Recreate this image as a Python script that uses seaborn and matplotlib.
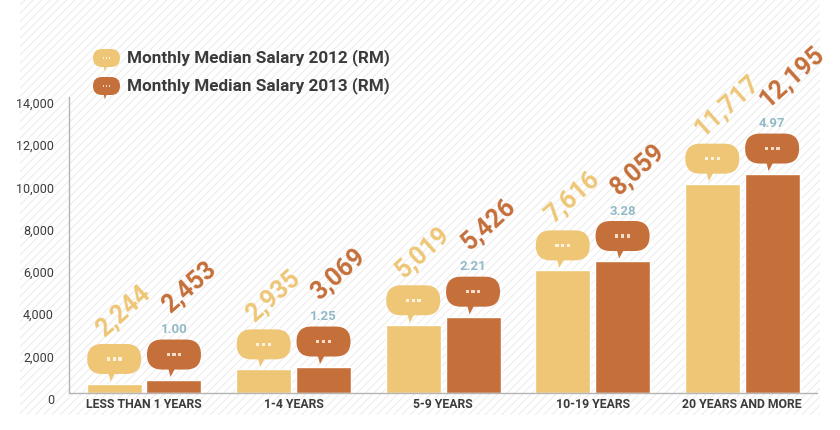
import matplotlib
matplotlib.use('Agg')
import matplotlib.pyplot as plt
import matplotlib.transforms as mtransforms
from matplotlib.patches import FancyBboxPatch, Polygon, Rectangle
import seaborn as sns
import pandas as pd

# data read from the infographic
categories = ['LESS THAN 1 YEARS', '1-4 YEARS', '5-9 YEARS', '10-19 YEARS', '20 YEARS AND MORE']
years = ['Monthly Median Salary 2012 (RM)', 'Monthly Median Salary 2013 (RM)']
salary_2012 = [2244, 2935, 5019, 7616, 11717]
salary_2013 = [2453, 3069, 5426, 8059, 12195]
growth = ['1.00', '1.25', '2.21', '3.28', '4.97']

# the speech bubble sits on top of each bar and makes up the rest of the value
BUBBLE_SHARE = 1830

col_2012 = '#EEC676'
col_2013 = '#C56F3A'
dots_2012 = '#FDF3DE'
dots_2013 = '#F6DCCB'
text_col = '#3b3b3b'
growth_col = '#92BAC6'

sns.set_style('white')
plt.rcParams['font.family'] = ['Roboto', 'DejaVu Sans']
plt.rcParams['hatch.linewidth'] = 0.7

df = pd.DataFrame({
    'category': categories * 2,
    'year': [years[0]] * 5 + [years[1]] * 5,
    'salary': salary_2012 + salary_2013,
})
df['bar'] = df['salary'] - BUBBLE_SHARE

fig = plt.figure(figsize=(8.4, 4.3), dpi=100)
fig.patch.set_facecolor('white')

# faint diagonal stripes behind the chart
bg = Rectangle((20 / 840, 15 / 430), 800 / 840, 415 / 430, transform=fig.transFigure,
               facecolor='white', edgecolor='#ebebeb', hatch='////', linewidth=0, zorder=-10)
fig.patches.append(bg)

ax = fig.add_axes([0.0825, 0.0867, 0.8901, 0.6884])
ax.set_facecolor('none')

sns.barplot(data=df, x='category', y='bar', hue='year', order=categories, hue_order=years,
            palette=[col_2012, col_2013], width=0.8, gap=0.08, saturation=1,
            legend=False, ax=ax, zorder=2)

ax.set_xlim(-0.5, 4.5)
ax.set_ylim(0, 14000)
ax.set_yticks(range(0, 14001, 2000))
ax.set_yticklabels([f'{v:,}' for v in range(0, 14001, 2000)])
ax.set_xlabel('')
ax.set_ylabel('')
ax.tick_params(axis='both', length=0)
ax.tick_params(axis='y', pad=11, labelsize=9, labelcolor=text_col)
ax.tick_params(axis='x', pad=4, labelsize=8.8, labelcolor=text_col)
for lab in ax.get_xticklabels():
    lab.set_fontweight('bold')
shift = mtransforms.ScaledTranslation(0, -0.06, fig.dpi_scale_trans)
for lab in ax.get_yticklabels():
    lab.set_transform(lab.get_transform() + shift)
for side in ['top', 'right']:
    ax.spines[side].set_visible(False)
for side in ['left', 'bottom']:
    ax.spines[side].set_color('#b5b5b5')
    ax.spines[side].set_linewidth(1)


def draw_bubble(target, trans, cx, y0, w, h, color, dot_color):
    # speech bubble in inches, relative to the given transform origin
    body = FancyBboxPatch((cx - w / 2, y0), w, h,
                          boxstyle=f'round,pad=0,rounding_size={h * 0.5}',
                          facecolor=color, edgecolor='none', transform=trans, zorder=3)
    tail = Polygon([(cx - 0.11 * w, y0 + 0.02), (cx + 0.03 * w, y0 + 0.02),
                    (cx - 0.065 * w, y0 - 0.075 * h / 0.30)],
                   closed=True, facecolor=color, edgecolor='none', transform=trans, zorder=3)
    parts = [body, tail]
    s = 0.032 * w / 0.54
    for k in (-1, 0, 1):
        parts.append(Rectangle((cx + k * 0.058 * w / 0.54 - s / 2, y0 + h / 2 - s / 2), s, s,
                               facecolor=dot_color, edgecolor='none', transform=trans, zorder=4))
    for p in parts:
        if target is fig:
            fig.add_artist(p)
        else:
            target.add_patch(p)


labels = [salary_2012, salary_2013]
colors = [col_2012, col_2013]
dot_colors = [dots_2012, dots_2013]
for i, bars in enumerate(ax.containers):
    for j, bar in enumerate(bars):
        cx = bar.get_x() + bar.get_width() / 2
        top = bar.get_height()
        trans = fig.dpi_scale_trans + mtransforms.ScaledTranslation(cx, top, ax.transData)
        draw_bubble(ax, trans, 0, 0.10, 0.54, 0.30, colors[i], dot_colors[i])
        if i == 0:
            ax.text(-0.10, 0.47, f'{labels[i][j]:,}', transform=trans, rotation=42,
                    rotation_mode='anchor', ha='left', va='baseline', fontsize=18,
                    fontweight='bold', color=colors[i], zorder=5)
        else:
            ax.text(0, 0.50, growth[j], transform=trans, ha='center', va='center',
                    fontsize=9.5, fontweight='bold', color=growth_col, zorder=5)
            ax.text(-0.04, 0.66, f'{labels[i][j]:,}', transform=trans, rotation=42,
                    rotation_mode='anchor', ha='left', va='baseline', fontsize=18,
                    fontweight='bold', color=colors[i], zorder=5)

# legend made of bubbles
for k, (name, c, dc) in enumerate(zip(years, colors, dot_colors)):
    ycen = 3.72 - 0.28 * k
    draw_bubble(fig, fig.dpi_scale_trans, 1.065, ycen - 0.09, 0.27, 0.18, c, dc)
    fig.text(1.27 / 8.4, ycen / 4.3, name, ha='left', va='center', fontsize=12.3,
             fontweight='bold', color=text_col)

fig.savefig('out.png', dpi=100)
